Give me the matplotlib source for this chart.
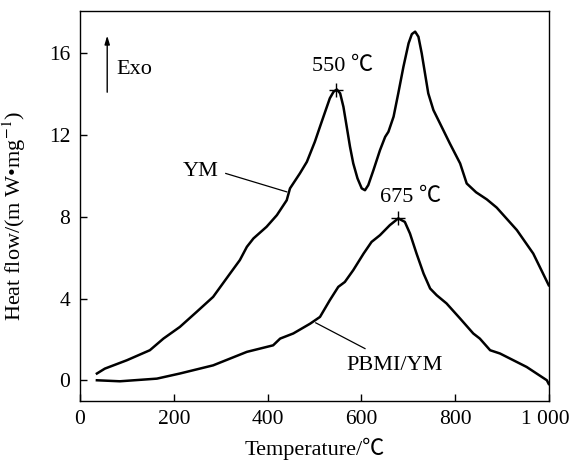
import matplotlib
matplotlib.use("Agg")
import matplotlib.pyplot as plt
import matplotlib.transforms as mtransforms

plt.rcParams['font.family'] = ['Liberation Serif', 'Noto Sans CJK SC', 'DejaVu Sans']
plt.rcParams['mathtext.fontset'] = 'stix'

# YM curve
ym_T = [36, 53, 100, 149, 178, 213, 249, 284, 320, 341, 356, 370, 398, 420, 441, 448,
        469, 484, 501, 512, 523, 533, 541, 548, 555, 562, 569, 576, 583, 592, 601,
        608, 615, 626, 640, 651, 658, 669, 679, 690, 701, 708, 715, 722, 729, 736,
        743, 754, 768, 789, 811, 825, 845, 868, 889, 932, 967, 1000]
ym_hf = [0.33, 0.57, 0.98, 1.47, 2.04, 2.61, 3.35, 4.08, 5.22, 5.88, 6.53, 6.94, 7.51, 8.08, 8.81, 9.39,
         10.12, 10.69, 11.67, 12.41, 13.14, 13.8, 14.12, 14.23, 14.04, 13.38, 12.41, 11.43, 10.61, 9.88, 9.39,
         9.3, 9.55, 10.28, 11.26, 11.91, 12.16, 12.9, 14.04, 15.34, 16.49, 16.94, 17.06, 16.81, 16.0, 15.02,
         14.04, 13.22, 12.57, 11.59, 10.61, 9.63, 9.2, 8.85, 8.45, 7.35, 6.2, 4.65]

# PBMI/YM curve
pb_T = [36, 85, 164, 213, 284, 356, 412, 427, 455, 491, 512, 533, 551, 565, 583,
        605, 622, 640, 661, 679, 693, 704, 718, 733, 747, 761, 782, 811, 839, 853,
        875, 896, 953, 996, 1000]
pb_hf = [0.0, -0.05, 0.08, 0.33, 0.73, 1.39, 1.71, 2.04, 2.29, 2.77, 3.1, 3.92, 4.57, 4.81, 5.39,
         6.2, 6.77, 7.1, 7.59, 7.92, 7.75, 7.18, 6.2, 5.22, 4.49, 4.16, 3.76, 3.02, 2.29, 2.04,
         1.47, 1.31, 0.65, 0.0, -0.18]

peak_T = [546, 679]
peak_hf = [14.22, 7.92]
peak_labels = ['550 ℃', '675 ℃']

x_ticks = [0, 200, 400, 600, 800, 1000]
x_ticklabels = ['0', '200', '400', '600', '800', '1 000']
y_ticks = [0, 4, 8, 12, 16]

fs = 16
tfs = 15.5

fig = plt.figure(figsize=(5.72, 4.68), dpi=100)
ax = fig.add_axes([0.1399, 0.1438, 0.8194, 0.8327])

ax.plot(ym_T, ym_hf, color='black', lw=1.8, solid_joinstyle='round')
ax.plot(pb_T, pb_hf, color='black', lw=1.8, solid_joinstyle='round')
ax.plot(peak_T, peak_hf, linestyle='none', marker='+', color='black', ms=10, mew=1.0)

ax.set_xlim(0, 1000)
ax.set_ylim(-1, 18.07)
ax.set_xticks(x_ticks)
ax.set_xticklabels(x_ticklabels)
ax.set_yticks(y_ticks)
ax.tick_params(direction='in', length=5, width=1, labelsize=tfs, pad=7,
               top=False, right=False)
for s in ax.spines.values():
    s.set_linewidth(1.0)

# nudge the last x tick label so it stays inside the figure
last = ax.get_xticklabels()[-1]
last.set_transform(last.get_transform() +
                   mtransforms.ScaledTranslation(-3 / 100, 0, fig.dpi_scale_trans))

ax.set_xlabel('Temperature/℃', fontsize=fs, labelpad=6)
ax.set_ylabel('Heat flow/(m W\u2022mg$^{-1}$)', fontsize=fs, labelpad=8)
ax.yaxis.set_label_coords(-0.112, 0.475)

ax.text(560, 15.34, peak_labels[0], ha='center', va='center', fontsize=fs)
ax.text(706, 8.96, peak_labels[1], ha='center', va='center', fontsize=fs)
ax.text(258, 10.2, 'YM', ha='center', va='center', fontsize=fs)
ax.plot([311, 441], [10.12, 9.22], color='black', lw=0.9)
ax.text(671, 0.73, 'PBMI/YM', ha='center', va='center', fontsize=fs)
ax.plot([503, 608], [2.81, 1.55], color='black', lw=0.9)

ax.annotate('', xy=(58, 17.0), xytext=(58, 13.96),
            arrowprops=dict(arrowstyle='-|>,head_length=0.5,head_width=0.15',
                            color='black', lw=1.0))
ax.text(77, 15.23, 'Exo', ha='left', va='center', fontsize=fs)

fig.savefig('out.png', dpi=100)
